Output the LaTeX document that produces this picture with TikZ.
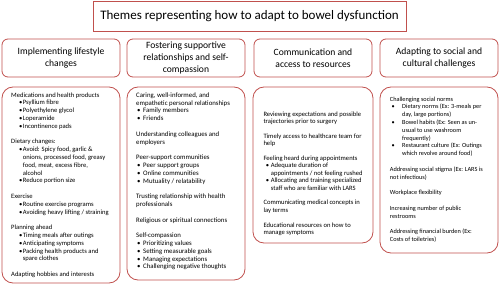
\documentclass[tikz,border=0pt]{standalone}
\usepackage{fontspec}
\setmainfont{Carlito}
\usepackage{tikz}
\usetikzlibrary{positioning}
\definecolor{frame}{HTML}{C0504D}
\newcommand{\bu}[1]{\hbox to \bulletind{\hskip\bulletoff\textbullet\hss}#1}
\newcommand{\ct}[1]{\hspace*{\bulletind}#1}

\begin{document}
\begin{tikzpicture}[
  x=1pt,
  y=-1pt,
  titlebox/.style={draw=frame, line width=0.8pt, minimum width=313pt, minimum height=30pt, inner sep=0pt, font=\fontsize{13}{15}\selectfont},
  headbox/.style={draw=frame, line width=0.8pt, rounded corners=6pt, minimum width=118pt, minimum height=38pt, inner sep=0pt, align=center, font=\fontsize{9.6}{11.8}\selectfont},
  bodybox/.style={draw=frame, line width=0.8pt, rounded corners=11pt, minimum width=118pt, inner sep=0pt},
  body/.style={anchor=north west, align=left, inner sep=0pt, font=\fontsize{6.6}{7.8}\selectfont},
  colone/.style={body, execute at begin node={\def\bulletoff{8pt}\def\bulletind{11.7pt}}},
  coltwo/.style={body, font=\fontsize{6.8}{7.8}\selectfont, execute at begin node={\def\bulletoff{1pt}\def\bulletind{7pt}}},
  colthree/.style={body, font=\fontsize{6.6}{7.4}\selectfont, execute at begin node={\def\bulletoff{2.4pt}\def\bulletind{7.4pt}}},
  colfour/.style={body, font=\fontsize{6.3}{7.8}\selectfont, execute at begin node={\def\bulletoff{1.6pt}\def\bulletind{12.3pt}}}
]
\useasboundingbox (0,0) rectangle (500,286);
\node[titlebox] (title) at (249.5,16) {Themes representing how to adapt to bowel dysfunction};

\node[headbox] (head1) at (61,58) {Implementing lifestyle\\changes};
\node[headbox] (head2) at (186,58) {Fostering supportive\\relationships and self-\\compassion};
\node[headbox] (head3) at (313,58) {Communication and\\access to resources};
\node[headbox] (head4) at (439,58) {Adapting to social and\\cultural challenges};

\node[bodybox, minimum height=196pt] (box1) at (61,185) {};
\node[bodybox, minimum height=193pt] (box2) at (186,183.5) {};
\node[bodybox, minimum height=156pt, minimum width=120pt] (box3) at (313,165) {};
\node[bodybox, minimum height=166pt] (box4) at (439,170) {};

\node[colone] (text1) at (11,92.4) {Medications and health products\\
\bu{Psyllium fibre}\\
\bu{Polyethylene glycol}\\
\bu{Loperamide}\\
\bu{Incontinence pads}\\[7.8pt]
Dietary changes:\\
\bu{Avoid: Spicy food,  garlic \&}\\
\ct{onions, processed food,  greasy}\\
\ct{food, meat,  excess fibre,}\\
\ct{alcohol}\\
\bu{Reduce portion size}\\[7.8pt]
Exercise\\
\bu{Routine exercise programs}\\
\bu{Avoiding heavy lifting / straining}\\[7.8pt]
Planning ahead\\
\bu{Timing meals after outings}\\
\bu{Anticipating symptoms}\\
\bu{Packing health products and}\\
\ct{spare clothes}\\[7.8pt]
Adapting hobbies and interests};

\node[coltwo] (text2) at (136,92.3) {Caring, well-informed, and\\
empathetic personal relationships\\
\bu{Family members}\\
\bu{Friends}\\[7.8pt]
Understanding colleagues and\\
employers\\[7.8pt]
Peer-support communities\\
\bu{Peer support groups}\\
\bu{Online communities}\\
\bu{Mutuality / relatability}\\[7.8pt]
Trusting relationship with health\\
professionals\\[7.8pt]
Religious or spiritual connections\\[7.8pt]
Self-compassion\\
\bu{Prioritizing values}\\
\bu{Setting measurable goals}\\
\bu{Managing expectations}\\
\bu{Challenging negative thoughts}};

\node[colthree] (text3) at (263.3,111.4) {Reviewing expectations and possible\\
trajectories prior to surgery\\[7.4pt]
Timely access to healthcare team for\\
help\\[7.4pt]
Feeling heard during appointments\\
\bu{Adequate duration of}\\
\ct{appointments / not feeling rushed}\\
\bu{Allocating and training specialized}\\
\ct{staff who are familiar with LARS}\\[7.4pt]
Communicating medical concepts in\\
lay terms\\[7.4pt]
Educational resources on how to\\
manage symptoms};

\node[colfour] (text4) at (389.7,96.6) {Challenging social norms\\
\bu{Dietary norms (Ex: 3-meals per}\\
\ct{day, large portions)}\\
\bu{Bowel habits (Ex: Seen as un-}\\
\ct{usual to use washroom}\\
\ct{frequently)}\\
\bu{Restaurant culture (Ex: Outings}\\
\ct{which revolve around food)}\\[7.8pt]
Addressing social stigma (Ex: LARS is\\
not infectious)\\[7.8pt]
Workplace flexibility\\[7.8pt]
Increasing number of public\\
restrooms\\[7.8pt]
Addressing financial burden (Ex:\\
Costs of toiletries)};
\end{tikzpicture}
\end{document}
